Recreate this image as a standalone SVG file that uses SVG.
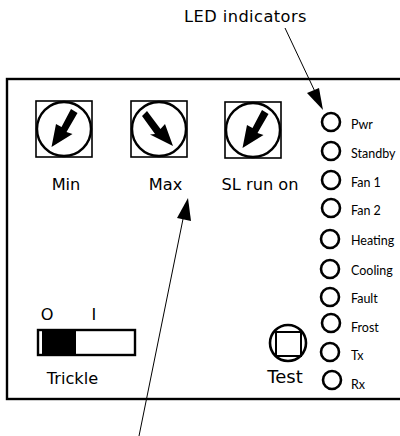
<svg xmlns="http://www.w3.org/2000/svg" width="400" height="436" viewBox="0 0 400 436">
<style>
.t{font-family:"DejaVu Sans",sans-serif;font-size:16.2px;fill:#000}
.l{font-family:Lato,"Liberation Sans",sans-serif;font-size:12.5px;fill:#000}
.led{fill:none;stroke:#000;stroke-width:2.6}
.sq{fill:none;stroke:#000;stroke-width:1.6}
.dial{fill:none;stroke:#000;stroke-width:2.4}
</style>
<defs>
<polygon id="ptr" points="51.500,147 56,124 61.500,127 71,109 77.500,113 66.500,132 72.500,134"/>
</defs>
<rect id="panel" x="7" y="79" width="400" height="320" fill="none" stroke="#000" stroke-width="2.4"/>
<g id="knob-min"><rect class="sq" x="36" y="101" width="56" height="56"/><circle class="dial" cx="64" cy="129" r="27"/><use href="#ptr"/><text class="t" x="66" y="190" text-anchor="middle">Min</text></g>
<g id="knob-max"><rect class="sq" x="131" y="101" width="56" height="56"/><circle class="dial" cx="159" cy="129" r="27"/><polygon points="173,146 165,124 160.500,129 147,111 142,116 155,134 150,134.500"/><text class="t" x="165.500" y="190" text-anchor="middle">Max</text></g>
<g id="knob-slrunon"><rect class="sq" x="225" y="102" width="56" height="56"/><circle class="dial" cx="253" cy="130" r="27"/><use href="#ptr" x="191" y="1"/><text class="t" x="260" y="190" text-anchor="middle">SL run on</text></g>
<g id="led-pwr"><circle class="led" cx="331" cy="122" r="9"/><text class="l" x="351" y="129">Pwr</text></g>
<g id="led-standby"><circle class="led" cx="331" cy="151" r="9"/><text class="l" x="351" y="158">Standby</text></g>
<g id="led-fan1"><circle class="led" cx="331" cy="180" r="9"/><text class="l" x="351" y="187">Fan 1</text></g>
<g id="led-fan2"><circle class="led" cx="331" cy="208" r="9"/><text class="l" x="351" y="215">Fan 2</text></g>
<g id="led-heating"><circle class="led" cx="330" cy="239" r="9"/><text class="l" x="351" y="245">Heating</text></g>
<g id="led-cooling"><circle class="led" cx="330" cy="269" r="9"/><text class="l" x="351" y="275">Cooling</text></g>
<g id="led-fault"><circle class="led" cx="330" cy="297" r="9"/><text class="l" x="351" y="303">Fault</text></g>
<g id="led-frost"><circle class="led" cx="331" cy="323" r="9"/><text class="l" x="351" y="332">Frost</text></g>
<g id="led-tx"><circle class="led" cx="330" cy="352" r="9"/><text class="l" x="351" y="360">Tx</text></g>
<g id="led-rx"><circle class="led" cx="332" cy="380" r="9"/><text class="l" x="351" y="389">Rx</text></g>
<g id="test"><circle cx="288" cy="343" r="18" fill="none" stroke="#000" stroke-width="2.6"/><rect x="276" y="332" width="25" height="24" fill="none" stroke="#000" stroke-width="2"/><text class="t" x="285" y="383" text-anchor="middle" style="font-size:18px">Test</text></g>
<g id="switch"><rect x="38" y="330" width="97" height="25" fill="#fff" stroke="#000" stroke-width="2.4"/><rect x="42" y="330" width="34" height="25"/><text class="t" x="47" y="320" text-anchor="middle">O</text><text class="t" x="94" y="320" text-anchor="middle">I</text><text class="t" x="72.500" y="384" text-anchor="middle">Trickle</text></g>
<g id="connectors"><text class="t" x="245.500" y="22" text-anchor="middle" style="letter-spacing:.45px">LED indicators</text>
<line x1="285" y1="28" x2="318" y2="98" stroke="#000"/><polygon points="323,110 307,93 319,88"/>
<line x1="139" y1="436" x2="183" y2="219" stroke="#000"/><polygon points="188,198 177,218 191,221"/></g>
</svg>
